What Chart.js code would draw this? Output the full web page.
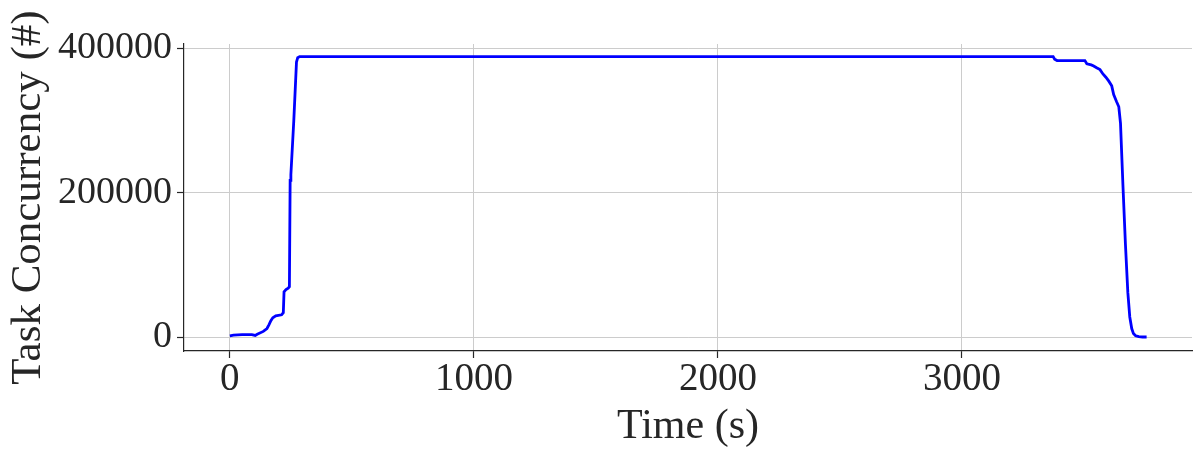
<!DOCTYPE html>
<html>
<head>
<meta charset="utf-8">
<script src="https://cdn.jsdelivr.net/npm/chart.js@4.4.1/dist/chart.umd.min.js"></script>
<style>
  html, body { margin: 0; padding: 0; background: #ffffff; }
  #wrap { width: 1201px; height: 458px; }
</style>
</head>
<body>
<div id="wrap"><canvas id="c" width="1201" height="458"></canvas></div>
<script>
// Time (s)
const timeSeconds = [0, 15, 50, 90, 104, 112, 137, 152, 160, 168, 176, 188, 212, 219, 222, 230, 239, 244, 247, 250, 262, 273, 278, 286,
  3374, 3380, 3390, 3504, 3512, 3530, 3540, 3552, 3566, 3578, 3590, 3602, 3614, 3622, 3634, 3643, 3650, 3660, 3670, 3680, 3688, 3696, 3703, 3712, 3725, 3740, 3757];
// Task concurrency (#)
const concurrency = [2000, 3000, 3500, 3500, 2500, 4000, 8000, 12000, 17000, 23000, 27000, 29500, 31000, 34000, 63000, 66000, 68000, 70000, 217000, 225000, 300000, 381000, 387000, 388500,
  388500, 385000, 383000, 383000, 378500, 377000, 375500, 373000, 370500, 364500, 360000, 354500, 348000, 336000, 326000, 319000, 296000, 210000, 130000, 62000, 28000, 12000, 5000, 2000, 700, 300, 300];

const xTickValues = [0, 1000, 2000, 3000];
const xTickLabels = ["0", "1000", "2000", "3000"];
const yTickValues = [0, 200000, 400000];
const yTickLabels = ["0", "200000", "400000"];

const xTitle = "Time (s)";
const yTitle = "Task Concurrency (#)";

const points = timeSeconds.map((t, i) => ({ x: t, y: concurrency[i] }));

const textColor = '#262626';
const gridColor = '#cccccc';
const serif = '"Liberation Serif", "DejaVu Serif", serif';

new Chart(document.getElementById('c'), {
  type: 'line',
  data: {
    datasets: [{
      data: points,
      borderColor: '#0000ff',
      borderWidth: 2.8,
      pointRadius: 0,
      tension: 0,
      fill: false
    }]
  },
  options: {
    responsive: false,
    animation: false,
    layout: { padding: { left: 0, right: 9, top: 44, bottom: 0 } },
    plugins: { legend: { display: false }, tooltip: { enabled: false } },
    scales: {
      x: {
        type: 'linear',
        min: -188,
        max: 3943,
        afterBuildTicks: (s) => { s.ticks = xTickValues.map(v => ({ value: v })); },
        afterFit: (s) => { s.height = 107; },
        ticks: {
          color: textColor,
          font: { family: serif, size: 39, lineHeight: 1 },
          padding: 2,
          maxRotation: 0,
          autoSkip: false,
          callback: (v) => xTickLabels[xTickValues.indexOf(v)]
        },
        grid: { color: gridColor, lineWidth: 1, drawTicks: true, tickLength: 7, tickColor: textColor, tickWidth: 1.2 },
        border: { display: true, color: textColor, width: 1.2 },
        title: {
          display: true,
          text: xTitle,
          color: textColor,
          font: { family: serif, size: 42, lineHeight: 1 },
          padding: { top: 0, bottom: 10 }
        }
      },
      y: {
        type: 'linear',
        min: -19100,
        max: 405950,
        afterBuildTicks: (s) => { s.ticks = yTickValues.map(v => ({ value: v })); },
        afterFit: (s) => { s.width = 184; },
        ticks: {
          color: textColor,
          font: { family: serif, size: 38, lineHeight: 1 },
          padding: 5,
          autoSkip: false,
          callback: (v) => yTickLabels[yTickValues.indexOf(v)]
        },
        grid: { color: gridColor, lineWidth: 1, drawTicks: true, tickLength: 7, tickColor: textColor, tickWidth: 1.2 },
        border: { display: true, color: textColor, width: 1.2 },
        title: {
          display: true,
          text: yTitle,
          color: textColor,
          font: { family: serif, size: 43, lineHeight: 1 },
          padding: { top: 7, bottom: 0 }
        }
      }
    }
  }
});
</script>
</body>
</html>
